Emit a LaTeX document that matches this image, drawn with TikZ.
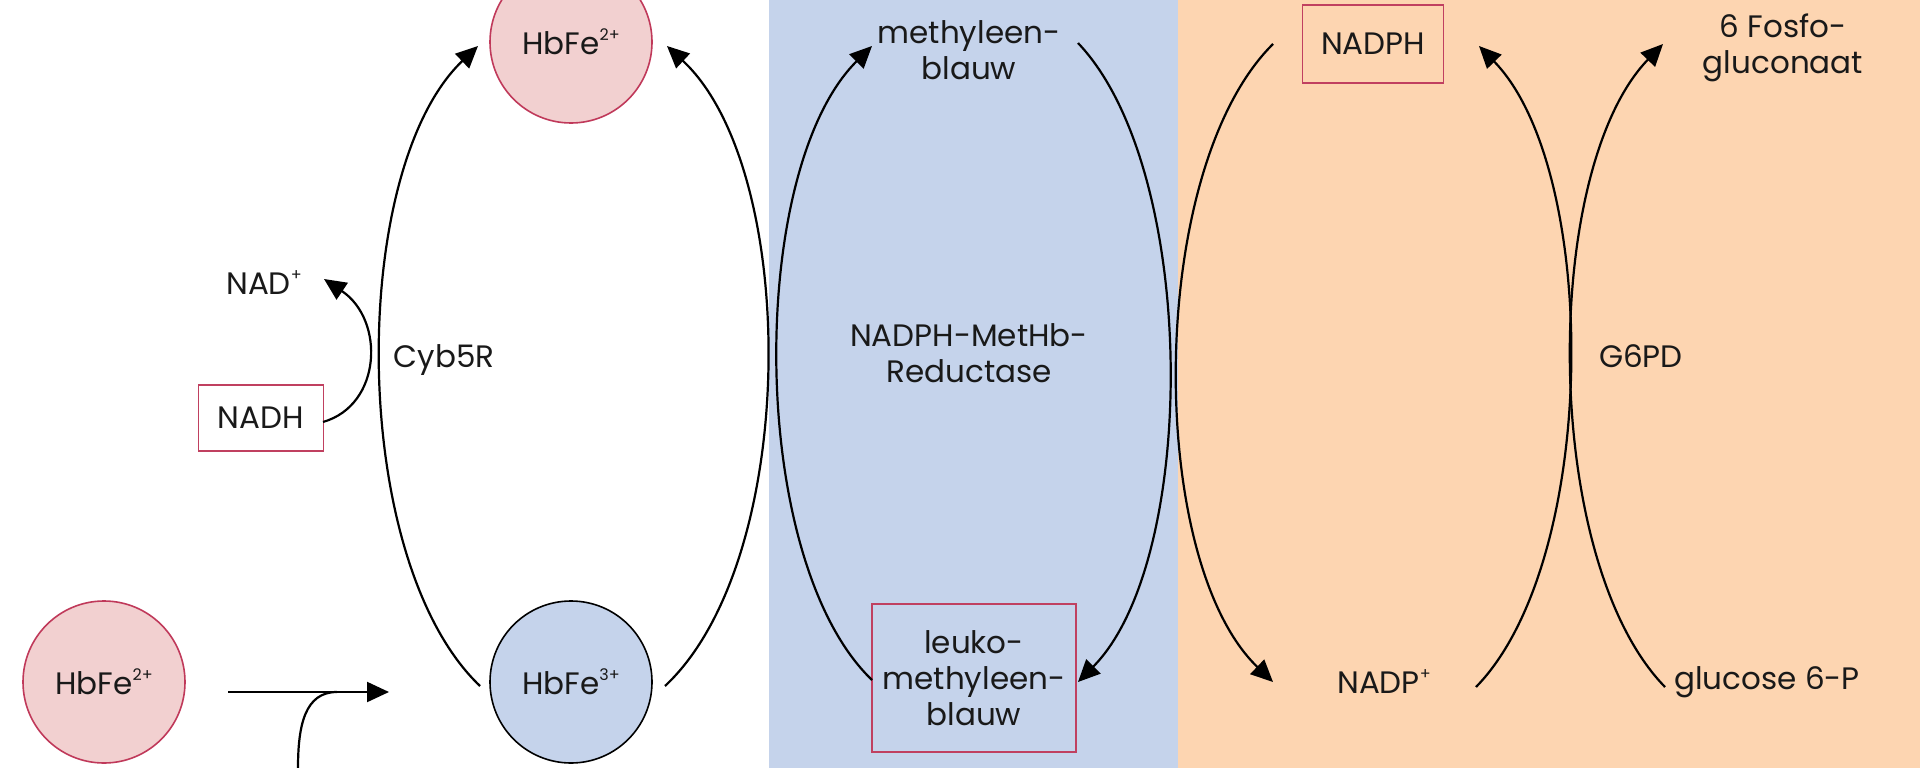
\documentclass[tikz,border=0pt]{standalone}
\usepackage{fontspec}
\setmainfont{Poppins}
\usetikzlibrary{arrows.meta}
\definecolor{panelblue}{HTML}{C5D3EB}
\definecolor{panelorange}{HTML}{FDD5B1}
\definecolor{pinkfill}{HTML}{F2D0D0}
\definecolor{crimson}{HTML}{C0395A}
\definecolor{boxred}{HTML}{C04060}
\tikzset{
  lbl/.style={font=\fontsize{31}{36}\selectfont, align=center, inner sep=0pt, text=black!90},
  hbred/.style={circle, minimum size=162pt, fill=pinkfill, draw=crimson, line width=1.6pt, lbl},
  hbblue/.style={circle, minimum size=162pt, fill=panelblue, draw=black, line width=1.6pt, lbl},
  redbox/.style={rectangle, draw=boxred, line width=1.6pt, lbl},
  conn/.style={line width=2.2pt, black},
  arr/.style={conn, -{Triangle[length=22pt,width=20pt]}},
}
\newcommand{\sps}[1]{\raisebox{0.45em}{\fontsize{16}{16}\selectfont #1}}
\begin{document}
\begin{tikzpicture}[x=1pt,y=-1pt]
\useasboundingbox (0,0) rectangle (1920,768);
% panels
\fill[white] (0,0) rectangle (769,768);
\fill[panelblue] (769,0) rectangle (1178,768);
\fill[panelorange] (1178,0) rectangle (1920,768);

% nodes
\node[hbred] (hbtop) at (571,42) {HbFe\sps{2+}};
\node[hbred] (hbleft) at (104,682) {HbFe\sps{2+}};
\node[hbblue] (hbthree) at (571,682) {HbFe\sps{3+}};
\node[lbl] (nadp) at (264,283) {NAD\sps{+}};
\node[redbox, minimum width=125pt, minimum height=66pt] (nadh) at (261,418) {NADH};
\node[lbl] (cyb) at (444,360) {Cyb5R};
\node[lbl] (mb) at (969,50) {methyleen-\\blauw};
\node[lbl] (red) at (969,353) {NADPH-MetHb-\\Reductase};
\node[redbox, minimum width=204pt, minimum height=148pt] (leuko) at (974,678) {leuko-\\methyleen-\\blauw};
\node[redbox, minimum width=141pt, minimum height=78pt] (nadph) at (1373,44) {NADPH};
\node[lbl] (fosfo) at (1783,48) {6 Fosfo-\\gluconaat};
\node[lbl] (nadpplus) at (1384,682) {NADP\sps{+}};
\node[lbl] (gluc) at (1767,682) {glucose 6-P};
\node[lbl] (g6pd) at (1641,356) {G6PD};

% named connector ends
\coordinate (a1s) at (480,686);
\coordinate (a1e) at (478,46);
\coordinate (a2s) at (665,686);
\coordinate (a2e) at (667,46);
\coordinate (a3s) at (323,422);
\coordinate (a3e) at (324,279);
\coordinate (b1s) at (872,680);
\coordinate (b1e) at (872,46);
\coordinate (b2s) at (1078,43);
\coordinate (b2e) at (1078,682);
\coordinate (o1s) at (1273,44);
\coordinate (o1e) at (1273,682);
\coordinate (o2s) at (1476,687);
\coordinate (o2e) at (1479,46);
\coordinate (o3s) at (1665,687);
\coordinate (o3e) at (1663,44);
\coordinate (hs) at (228,692);
\coordinate (he) at (389,692);
\coordinate (cs) at (298,768);
\coordinate (cj) at (337,692);

% connectors
\draw[arr] (a1s) .. controls (348,560) and (348,170) .. (a1e);
\draw[arr] (a2s) .. controls (800,560) and (800,170) .. (a2e);
\draw[arr] (a3s) .. controls (382,405) and (385,320) .. (a3e);
\draw[arr] (hs) -- (he);
\draw[conn] (cs) .. controls (298,725) and (305,692) .. (cj);
\draw[arr] (b1s) .. controls (747,560) and (747,170) .. (b1e);
\draw[arr] (b2s) .. controls (1199,170) and (1199,560) .. (b2e);
\draw[arr] (o1s) .. controls (1146,170) and (1146,560) .. (o1e);
\draw[arr] (o2s) .. controls (1600,560) and (1600,170) .. (o2e);
\draw[arr] (o3s) .. controls (1541,560) and (1541,170) .. (o3e);
\end{tikzpicture}
\end{document}
